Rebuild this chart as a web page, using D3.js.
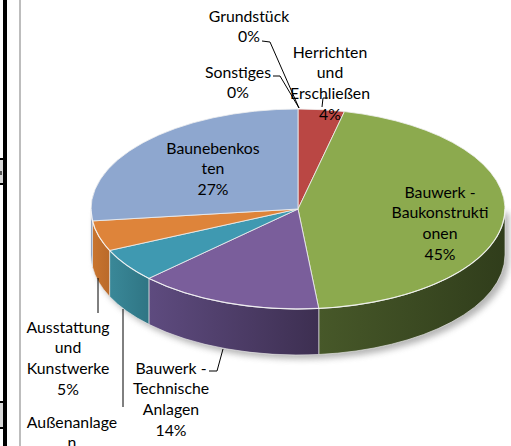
<!DOCTYPE html>
<html><head><meta charset="utf-8">
<script src="https://cdn.jsdelivr.net/npm/d3@7"></script>
<style>body{margin:0;background:#fff;overflow:hidden} svg{display:block}</style>
</head><body>
<script>
// ---- data ----
const categories = ["Herrichten und Erschließen", "Bauwerk - Baukonstruktionen", "Bauwerk - Technische Anlagen", "Außenanlagen", "Ausstattung und Kunstwerke", "Baunebenkosten", "Sonstiges", "Grundstück"];
const values = [3.6, 44.8, 14.4, 5.4, 4.9, 26.9, 0, 0];
// category text as wrapped in the chart
const categoryLines = [["Herrichten","und","Erschließen"], ["Bauwerk -","Baukonstrukti","onen"], ["Bauwerk -","Technische","Anlagen"], ["Außenanlage","n"], ["Ausstattung","und","Kunstwerke"], ["Baunebenkos","ten"], ["Sonstiges"], ["Grundstück"]];

// ---- style / layout ----
const topColors  = ["#BA4744", "#8CAA4E", "#7A5E9B", "#3F99B1", "#DE843A", "#8EA7CF", "#999", "#999"];
const sideLeft   = ["#8E3532", "#475829", "#5E4B7F", "#3A8898", "#C9752F", "#6E87B0", "#777", "#777"];
const sideRight  = ["#7A2D2B", "#303D1B", "#3D2F51", "#2F7584", "#BA6A2A", "#5F789F", "#666", "#666"];
const labelPos = [
  {x:330, y:52, leader:[[328,98],[323,98],[322,107]]},
  {x:440, y:192},
  {x:171, y:368, leader:[[209,371],[217,371],[223,349]]},
  {x:72,  y:422, leader:[[123,407],[123,309]]},
  {x:68,  y:327, leader:[[98,313],[98,278]]},
  {x:213, y:148},
  {x:238, y:72, leader:[[273,76],[280,76],[299,108]]},
  {x:249, y:16, leader:[[262,41],[270,42],[299,108]]}
];
const lineStep = 20.9;

const W = 511, H = 446;
const cx = 298, cy = 209, rx = 207, ry = 100, depth = 46;
const P = (a, d = 0) => [cx + rx * Math.sin(a), cy - ry * Math.cos(a) + d];

const svg = d3.select("body").append("svg").attr("width", W).attr("height", H);
const defs = svg.append("defs");
defs.append("filter").attr("id", "blur").attr("x", "-10%").attr("y", "-10%").attr("width", "120%").attr("height", "130%")
  .append("feGaussianBlur").attr("stdDeviation", 3);

// left frame decorations
svg.append("rect").attr("x", 3).attr("y", 0).attr("width", 4).attr("height", H).attr("fill", "#000");
svg.append("rect").attr("x", 19).attr("y", 0).attr("width", 2).attr("height", H).attr("fill", "#BDBDBD");
[[160, 23], [403, 24]].forEach(([y, h]) => {
  svg.append("rect").attr("x", 0).attr("y", y - 2).attr("width", 7).attr("height", h + 4).attr("fill", "#000");
  svg.append("rect").attr("x", 0).attr("y", y).attr("width", 3).attr("height", h).attr("fill", "#D8D8D8");
});
svg.append("rect").attr("x", 0).attr("y", 171).attr("width", 2).attr("height", 4).attr("fill", "#555");

const pie = d3.pie().sort(null).value(d => d).startAngle(0).endAngle(2 * Math.PI);
const arcs = pie(values);

// shadow
const sh = svg.append("g").attr("filter", "url(#blur)").attr("opacity", 0.55).attr("transform", "translate(4,4)");
sh.append("ellipse").attr("cx", cx).attr("cy", cy + depth).attr("rx", rx).attr("ry", ry).attr("fill", "#777");
sh.append("rect").attr("x", cx - rx).attr("y", cy).attr("width", 2 * rx).attr("height", depth).attr("fill", "#777");

// side walls
const walls = svg.append("g");
arcs.forEach((d, i) => {
  if (d.endAngle - d.startAngle <= 0) return;
  const s = Math.max(d.startAngle, Math.PI / 2), e = Math.min(d.endAngle, 3 * Math.PI / 2);
  if (e <= s) return;
  const gid = "sg" + i;
  const g = defs.append("linearGradient").attr("id", gid).attr("gradientUnits", "userSpaceOnUse")
    .attr("x1", P(e)[0]).attr("x2", P(s)[0]).attr("y1", 0).attr("y2", 0);
  g.append("stop").attr("offset", 0).attr("stop-color", sideLeft[i]);
  g.append("stop").attr("offset", 1).attr("stop-color", sideRight[i]);
  const a = P(s), b = P(e), c = P(e, depth), f = P(s, depth);
  const large = (e - s) > Math.PI ? 1 : 0;
  walls.append("path")
    .attr("d", `M${a}A${rx},${ry} 0 ${large} 1 ${b}L${c}A${rx},${ry} 0 ${large} 0 ${f}Z`)
    .attr("fill", `url(#${gid})`).attr("stroke", "rgba(235,235,235,0.8)").attr("stroke-width", 0.8);
});

// top faces
const tops = svg.append("g");
arcs.forEach((d, i) => {
  if (d.endAngle - d.startAngle <= 0) return;
  const a = P(d.startAngle), b = P(d.endAngle);
  const large = (d.endAngle - d.startAngle) > Math.PI ? 1 : 0;
  tops.append("path")
    .attr("d", `M${cx},${cy}L${a}A${rx},${ry} 0 ${large} 1 ${b}Z`)
    .attr("fill", topColors[i]).attr("stroke", "rgba(240,240,240,0.9)").attr("stroke-width", 0.9)
    .attr("stroke-linejoin", "round");
});
// highlight rim at front edge
tops.append("path")
  .attr("d", `M${P(Math.PI / 2)}A${rx},${ry} 0 0 1 ${P(3 * Math.PI / 2)}`)
  .attr("fill", "none").attr("stroke", "rgba(255,255,255,0.55)").attr("stroke-width", 1.3);

// leaders
const lead = svg.append("g").attr("fill", "none").attr("stroke", "#000").attr("stroke-width", 1);
labelPos.forEach(p => { if (p.leader) lead.append("path").attr("d", d3.line()(p.leader)); });

// labels
const total = d3.sum(values);
const lab = svg.append("g").attr("font-family", "Lato, 'Open Sans', sans-serif").attr("font-size", 15.8)
  .attr("fill", "#000").attr("text-anchor", "middle");
arcs.forEach((d, i) => {
  const lines = categoryLines[i].concat([Math.round(values[i] / total * 100) + "%"]);
  const p = labelPos[i];
  const t = lab.append("text");
  lines.forEach((ln, k) => {
    t.append("tspan").attr("x", p.x).attr("y", p.y + k * lineStep).attr("dy", "0.35em").text(ln);
  });
});
</script>
</body></html>
